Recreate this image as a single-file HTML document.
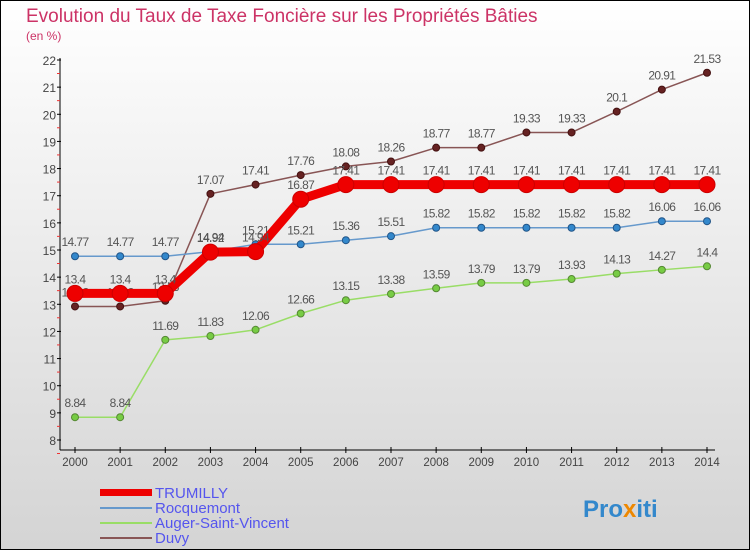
<!DOCTYPE html>
<html><head><meta charset="utf-8"><style>
body{margin:0;}
svg{display:block;font-family:"Liberation Sans",sans-serif;}
</style></head><body>
<svg width="750" height="550" viewBox="0 0 750 550">
<defs><linearGradient id="bg" x1="0" y1="0" x2="0" y2="1"><stop offset="0" stop-color="#ffffff"/><stop offset="1" stop-color="#d4d4d4"/></linearGradient></defs>
<rect x="0.5" y="0.5" width="749" height="549" fill="url(#bg)" stroke="#000"/>
<text x="26" y="22" font-size="19" fill="#cc3366">Evolution du Taux de Taxe Foncière sur les Propriétés Bâties</text>
<text x="26" y="40" font-size="12" fill="#cc3366">(en %)</text>
<g id="axes"></g>
<g id="series"></g>
<g id="legend">
<rect x="100" y="489" width="52" height="7" fill="#e00"/>
<text x="155" y="498" font-size="15" fill="#5555ee">TRUMILLY</text>
<rect x="100" y="507" width="52" height="2" fill="#6699cc"/>
<text x="155" y="513" font-size="15" fill="#5555ee">Rocquemont</text>
<rect x="100" y="522" width="52" height="2" fill="#99dd66"/>
<text x="155" y="528" font-size="15" fill="#5555ee">Auger-Saint-Vincent</text>
<rect x="100" y="537" width="52" height="2" fill="#885555"/>
<text x="155" y="543" font-size="15" fill="#5555ee">Duvy</text>
</g>
<text x="583" y="517" font-size="24" font-weight="bold" fill="#3388cc">Pro<tspan fill="#ee8800">x</tspan>iti</text>
</svg>
<script>
const years=[2000,2001,2002,2003,2004,2005,2006,2007,2008,2009,2010,2011,2012,2013,2014];
const trumilly=[13.4,13.4,13.4,14.92,14.94,16.87,17.41,17.41,17.41,17.41,17.41,17.41,17.41,17.41,17.41];
const rocquemont=[14.77,14.77,14.77,14.94,15.21,15.21,15.36,15.51,15.82,15.82,15.82,15.82,15.82,16.06,16.06];
const auger=[8.84,8.84,11.69,11.83,12.06,12.66,13.15,13.38,13.59,13.79,13.79,13.93,14.13,14.27,14.4];
const duvy=[12.92,12.92,13.13,17.07,17.41,17.76,18.08,18.26,18.77,18.77,19.33,19.33,20.1,20.91,21.53];
const yTicks=[8,9,10,11,12,13,14,15,16,17,18,19,20,21,22];
const NS='http://www.w3.org/2000/svg';
const x=i=>75+i*(707-75)/(years.length-1);
const y=v=>440-(v-8)*(380/14);
function mk(t,a,p){const e=document.createElementNS(NS,t);for(const k in a)e.setAttribute(k,a[k]);p.appendChild(e);return e;}
const ax=document.getElementById('axes');
let l=mk('line',{x1:60,y1:58,x2:60,y2:450,stroke:'#000'},ax);


l=mk('line',{x1:60,y1:450,x2:715,y2:450,stroke:'#000'},ax);


yTicks.forEach(v=>{mk('line',{x1:57,x2:61,y1:y(v),y2:y(v),stroke:'#000'},ax);
mk('line',{x1:57,x2:60,y1:y(v)+13.5,y2:y(v)+13.5,stroke:'#e33'},ax);
const t=mk('text',{x:56,y:y(v)+5,'font-size':12,fill:'#444','text-anchor':'end'},ax);t.textContent=v;

});
years.forEach((yr,i)=>{mk('line',{x1:x(i),x2:x(i),y1:447,y2:453,stroke:'#000'},ax);
const t=mk('text',{x:x(i),y:466,'font-size':11.5,fill:'#444','text-anchor':'middle'},ax);t.textContent=yr;

});
const sg=document.getElementById('series');
function series(data,color,w,r,name,dot,stroke){
const g=mk('g',{},sg);


const p=mk('polyline',{points:data.map((v,i)=>x(i)+','+y(v)).join(' '),fill:'none',stroke:color,'stroke-width':w,'stroke-linejoin':'round'},g);


data.forEach((v,i)=>{const c=mk('circle',{cx:x(i),cy:y(v),r:r,fill:dot,stroke:stroke,'stroke-width':1},g);


const t=mk('text',{x:x(i),y:y(v)-10,'font-size':12,fill:'#555','text-anchor':'middle','letter-spacing':'-0.6'},g);t.textContent=v;

});}
series(auger,'#99dd66',1.5,3.5,'auger-saint-vincent','#77cc44','#558833');
series(duvy,'#885555',1.5,3.5,'duvy','#662222','#441111');
series(rocquemont,'#6699cc',1.5,3.5,'rocquemont','#3388cc','#225588');
series(trumilly,'#ee0000',9,8,'trumilly','#ee0000','#cc0000');
</script>
</body></html>
